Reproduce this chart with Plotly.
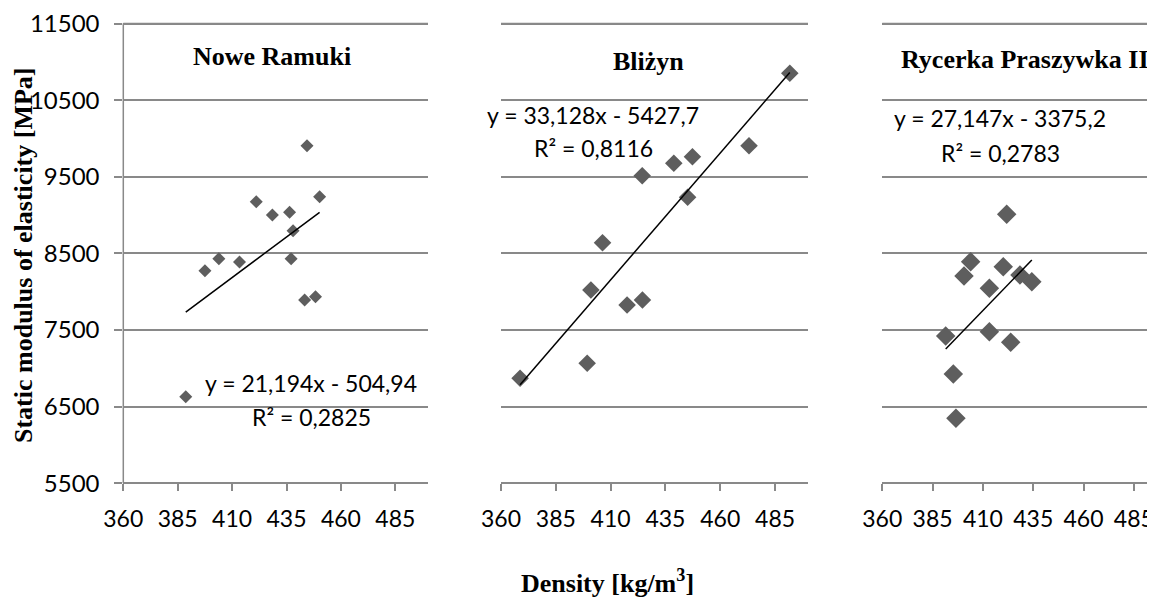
import plotly.graph_objects as go

# ---------------- data ----------------
sites = ["Nowe Ramuki", "Bliżyn", "Rycerka Praszywka II"]

nr_density = [397.5, 403.9, 413.4, 421.1, 428.5, 436.4, 438.0, 437.1, 444.4, 450.2, 443.3, 448.3, 388.7]
nr_modulus = [8274, 8431, 8388, 9175, 9001, 9036, 8796, 8431, 9905, 9240, 7892, 7935, 6630]

bl_density = [491.7, 473.1, 447.3, 438.8, 424.4, 445.1, 406.3, 401.0, 417.5, 424.5, 399.3, 368.7]
bl_modulus = [10850, 9905, 9762, 9676, 9514, 9232, 8640, 8022, 7827, 7892, 7066, 6870]

rp_density = [421.8, 403.9, 400.6, 420.1, 413.2, 428.4, 434.3, 391.5, 413.2, 423.8, 395.3, 396.6]
rp_modulus = [9010, 8392, 8205, 8326, 8044, 8218, 8131, 7422, 7478, 7340, 6926, 6348]

slopes = [21.194, 33.128, 27.147]
intercepts = [-504.94, -5427.7, -3375.2]
equations = ["y = 21,194x - 504,94", "y = 33,128x - 5427,7", "y = 27,147x - 3375,2"]
r2_labels = ["R² = 0,2825", "R² = 0,8116", "R² = 0,2783"]

x_ticks = [360, 385, 410, 435, 460, 485]
y_ticks = [5500, 6500, 7500, 8500, 9500, 10500, 11500]

# ---------------- styling ----------------
OFF = 8                      # default body margin of the html page
W, H = 1155 - OFF, 601 - OFF
GRID = "#898989"
MARK = "#5e5e5e"
SANS = "Lato, 'Open Sans', sans-serif"
SERIF = "'Liberation Serif', 'Times New Roman', serif"


def px_x(v):
    return (v - OFF) / W


def px_y(v):
    return 1 - (v - OFF) / H


# pixel rows of the 5500 and 11500 grid lines in the reference
Y_BOT_PX, Y_TOP_PX = 483.3, 23.5
PAD = 60  # extra data units around the outer grid lines
scale = (Y_BOT_PX - Y_TOP_PX) / (y_ticks[-1] - y_ticks[0])
y_range = [y_ticks[0] - PAD, y_ticks[-1] + PAD]
y_domain = [px_y(Y_BOT_PX + PAD * scale), px_y(Y_TOP_PX - PAD * scale)]
x_axis_pos = px_y(Y_BOT_PX)

x_domains = [[px_x(123.3), px_x(428.0)], [px_x(501.0), px_x(808.0)], [px_x(882.3), 1.0]]
x_ranges = [[360, 500], [360, 500], [360, 495.5]]
marker_sizes = [10, 13.5, 15]

data_sets = [(nr_density, nr_modulus), (bl_density, bl_modulus), (rp_density, rp_modulus)]

fig = go.Figure()

for i, (xs, ys) in enumerate(data_sets):
    xa = "x" if i == 0 else f"x{i+1}"
    ya = "y" if i == 0 else f"y{i+1}"
    fig.add_trace(go.Scatter(
        x=xs, y=ys, mode="markers", xaxis=xa, yaxis=ya,
        marker=dict(symbol="diamond", size=marker_sizes[i], color=MARK,
                    line=dict(width=0)),
        showlegend=False, name=sites[i]))
    lo, hi = min(xs), max(xs)
    fig.add_trace(go.Scatter(
        x=[lo, hi], y=[slopes[i] * lo + intercepts[i], slopes[i] * hi + intercepts[i]],
        mode="lines", xaxis=xa, yaxis=ya,
        line=dict(color="black", width=1.5), showlegend=False, hoverinfo="skip"))

layout = dict(
    width=W, height=H,
    margin=dict(l=0, r=0, t=0, b=0),
    paper_bgcolor="white", plot_bgcolor="white",
    showlegend=False,
)

for i in range(3):
    xk = "xaxis" if i == 0 else f"xaxis{i+1}"
    yk = "yaxis" if i == 0 else f"yaxis{i+1}"
    xa = "x" if i == 0 else f"x{i+1}"
    layout[xk] = dict(
        domain=x_domains[i], range=x_ranges[i], anchor="free", position=x_axis_pos,
        tickvals=x_ticks, ticktext=[str(v) for v in x_ticks],
        showgrid=False, zeroline=False, showline=False,
        ticks="outside", ticklen=7, tickwidth=1.5, tickcolor=GRID,
        tickfont=dict(family=SANS, size=23, color="black"),
        ticklabelstandoff=8, ticklabeloverflow="allow",
        automargin=False, fixedrange=True,
    )
    layout[yk] = dict(
        domain=y_domain, range=y_range, anchor=xa,
        tickvals=y_ticks, ticktext=[str(v) for v in y_ticks],
        showgrid=True, gridcolor=GRID, gridwidth=1.5,
        zeroline=False, showline=False,
        ticks="outside" if i == 0 else "", ticklen=8, tickwidth=1.5, tickcolor=GRID,
        showticklabels=(i == 0),
        tickfont=dict(family=SANS, size=24, color="black"),
        ticklabelstandoff=10, ticklabeloverflow="allow",
        automargin=False, fixedrange=True,
    )

fig.update_layout(**layout)

# outer horizontal grid lines of every panel (through each panel's y scale)
for i in range(3):
    xa = "x" if i == 0 else f"x{i+1}"
    ya = "y" if i == 0 else f"y{i+1}"
    for v in (y_ticks[0], y_ticks[-1]):
        fig.add_shape(type="line", xref=f"{xa} domain", yref=ya,
                      x0=0, x1=1, y0=v, y1=v, layer="above",
                      line=dict(color=GRID, width=1.5))

# vertical axis line of the first panel, between the outer grid lines
fig.add_shape(type="line", xref="x domain", yref="y",
              x0=0, x1=0, y0=y_ticks[0], y1=y_ticks[-1], layer="below",
              line=dict(color=GRID, width=1.5))

# panel titles
title_pos = [(272, 57), (648, 62), (1025, 59)]
for i, (px, py) in enumerate(title_pos):
    fig.add_annotation(text=f"<b>{sites[i]}</b>", xref="paper", yref="paper",
                       x=px_x(px), y=px_y(py), xanchor="center", yanchor="middle",
                       showarrow=False, font=dict(family=SERIF, size=26, color="black"))

# trend-line equations
eq_pos = [(311, 383, 417), (593, 115, 148), (1000, 118, 153)]
for i, (px, py1, py2) in enumerate(eq_pos):
    fig.add_annotation(text=equations[i], xref="paper", yref="paper",
                       x=px_x(px), y=px_y(py1), xanchor="center", yanchor="middle",
                       showarrow=False, font=dict(family=SANS, size=23, color="black"))
    fig.add_annotation(text=r2_labels[i], xref="paper", yref="paper",
                       x=px_x(px), y=px_y(py2), xanchor="center", yanchor="middle",
                       showarrow=False, font=dict(family=SANS, size=23, color="black"))

# axis titles
fig.add_annotation(text="<b>Static modulus of elasticity [MPa]</b>", xref="paper", yref="paper",
                   x=px_x(23), y=px_y(255), xanchor="center", yanchor="middle", textangle=-90,
                   showarrow=False, font=dict(family=SERIF, size=26, color="black"))
fig.add_annotation(text="<b>Density [kg/m<sup>3</sup>]</b>", xref="paper", yref="paper",
                   x=px_x(607), y=px_y(600), xanchor="center", yanchor="bottom",
                   showarrow=False, font=dict(family=SERIF, size=26, color="black"))

fig.write_html("out.html", config={"displayModeBar": False})
